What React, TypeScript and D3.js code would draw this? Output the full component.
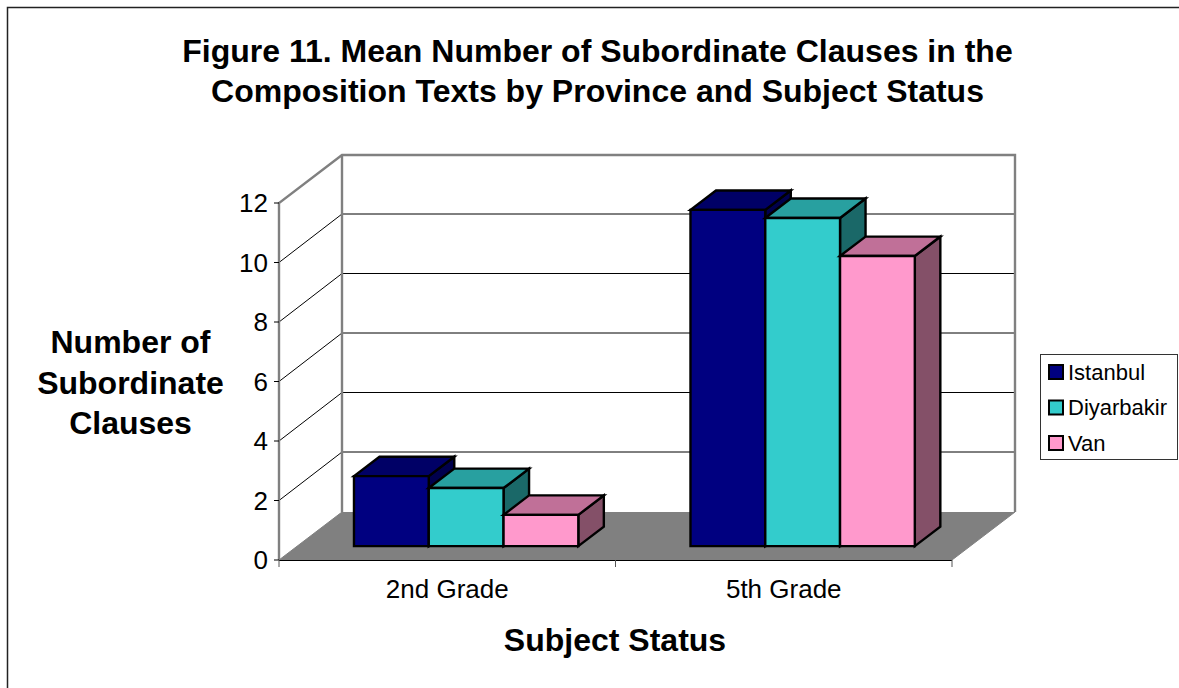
import React from "react";
import * as d3 from "d3";

const categories = ["2nd Grade", "5th Grade"];
const seriesNames = ["Istanbul", "Diyarbakir", "Van"];
const istanbulValues = [2.35, 11.3];
const diyarbakirValues = [1.95, 11.03];
const vanValues = [1.05, 9.75];
const seriesValues = [istanbulValues, diyarbakirValues, vanValues];
const frontColors = ["#000080", "#33CCCC", "#FF99CC"];
const topColors = ["#000066", "#28A0A0", "#C07098"];
const sideColors = ["#00004D", "#1A6868", "#845068"];
const yTicks = [0, 2, 4, 6, 8, 10, 12];
const titleLines = [
  "Figure 11. Mean Number of Subordinate Clauses in the",
  "Composition Texts by Province and Subject Status",
];
const yTitleLines = ["Number of", "Subordinate", "Clauses"];
const xTitle = "Subject Status";

const FONT = "'Liberation Sans', Arial, sans-serif";
const depthX = 63;
const depthY = 48;
const barDepthFront = 0.30;
const barDepthSize = 0.405;

export default function App() {
  const y = d3.scaleLinear().domain([0, 12]).range([560, 203]);
  const x0 = d3
    .scaleBand<string>()
    .domain(categories)
    .range([279, 952])
    .paddingInner(1 / 3)
    .paddingOuter(1 / 6);
  const x1 = d3
    .scaleBand<string>()
    .domain(seriesNames)
    .range([0, x0.bandwidth()]);
  const xStep = x0.step();

  const path = d3.line<[number, number]>();
  const bars = categories.flatMap((c, ci) =>
    seriesNames.map((s, si) => {
      const v = seriesValues[si][ci];
      const ox = depthX * barDepthFront;
      const oy = -depthY * 0.29;
      const dx = depthX * barDepthSize;
      const dy = -depthY * barDepthSize;
      const l = (x0(c) as number) + (x1(s) as number) + ox;
      const r = l + x1.bandwidth();
      const b = y(0) + oy;
      const t = y(v) + oy;
      return { key: c + s, si, l, r, b, t, dx, dy };
    })
  );

  return (
    <svg
      width={1179}
      height={688}
      style={{ position: "fixed", left: 0, top: 0, display: "block", background: "#fff" }}
      fontFamily={FONT}
    >
      <path d="M7.5,688V7.5H1179" fill="none" stroke="#222" strokeWidth={1.5} />

      {titleLines.map((t, i) => (
        <text key={t} x={597.5} y={62 + i * 40} textAnchor="middle" fontSize={32} fontWeight="bold">
          {t}
        </text>
      ))}

      {/* floor */}
      <path
        d={`M${x0.range()[0]},${y(0)}L${x0.range()[0] + depthX},${y(0) - depthY}H${x0.range()[1] + depthX}L${x0.range()[1]},${y(0)}Z`}
        fill="#808080"
      />

      {/* gridlines */}
      {yTicks.slice(1, -1).map((v) => (
        <g key={v}>
          <line x1={279} y1={y(v)} x2={279 + depthX} y2={y(v) - depthY - 0.5} stroke="#000" strokeWidth={1} />
          <line x1={279 + depthX} y1={y(v) - depthY - 0.5} x2={952 + depthX} y2={y(v) - depthY - 0.5} stroke="#000" strokeWidth={1} />
        </g>
      ))}

      {/* walls */}
      <path
        d={`M279,${y(0)}V${y(12)}L${279 + depthX},${y(12) - depthY}H${952 + depthX}V${y(0) - depthY}`}
        fill="none"
        stroke="#808080"
        strokeWidth={2.4}
      />
      <path d={`M${279 + depthX},${y(12) - depthY}V${y(0) - depthY}`} fill="none" stroke="#808080" strokeWidth={2.4} />
      <line x1={952 + depthX} y1={y(0) - depthY} x2={952} y2={y(0)} stroke="#808080" strokeWidth={1} />
      <line x1={279} y1={y(0)} x2={279 + depthX} y2={y(0) - depthY} stroke="#808080" strokeWidth={1} />

      {/* axes */}
      <line x1={279} y1={y(0) + 0.5} x2={952} y2={y(0) + 0.5} stroke="#000" strokeWidth={1} />
      {yTicks.map((v) => (
        <g key={v}>
          <line x1={274} y1={y(v)} x2={279} y2={y(v)} stroke="#000" strokeWidth={1} />
          <text x={268} y={y(v) + 9} textAnchor="end" fontSize={26}>
            {v}
          </text>
        </g>
      ))}
      {[0, 1, 2].map((i) => (
        <line
          key={i}
          x1={279 + i * xStep}
          y1={y(0)}
          x2={279 + i * xStep}
          y2={y(0) + 7}
          stroke="#555"
          strokeWidth={1}
        />
      ))}
      {categories.map((c) => (
        <text
          key={c}
          x={(x0(c) as number) + x0.bandwidth() / 2}
          y={598}
          textAnchor="middle"
          fontSize={26}
        >
          {c}
        </text>
      ))}

      {/* bars */}
      {bars.map((b) => (
        <g key={b.key} stroke="#000" strokeWidth={2.4} strokeLinejoin="miter">
          <path
            d={path([[b.r, b.b], [b.r + b.dx, b.b + b.dy], [b.r + b.dx, b.t + b.dy], [b.r, b.t]]) + "Z"}
            fill={sideColors[b.si]}
          />
          <path
            d={path([[b.l, b.t], [b.l + b.dx, b.t + b.dy], [b.r + b.dx, b.t + b.dy], [b.r, b.t]]) + "Z"}
            fill={topColors[b.si]}
          />
          <path
            d={path([[b.l, b.b], [b.l, b.t], [b.r, b.t], [b.r, b.b]]) + "Z"}
            fill={frontColors[b.si]}
          />
        </g>
      ))}

      {/* axis titles */}
      {yTitleLines.map((t, i) => (
        <text key={t} x={130.5} y={353 + i * 40.5} textAnchor="middle" fontSize={32} fontWeight="bold">
          {t}
        </text>
      ))}
      <text x={615} y={651} textAnchor="middle" fontSize={32} fontWeight="bold">
        {xTitle}
      </text>

      {/* legend */}
      <rect x={1040.5} y={354.5} width={137} height={105} fill="#fff" stroke="#333" strokeWidth={1} />
      {seriesNames.map((s, i) => (
        <g key={s}>
          <rect
            x={1049}
            y={365 + i * 35.5}
            width={14}
            height={14}
            fill={frontColors[i]}
            stroke="#000"
            strokeWidth={2}
          />
          <text x={1068} y={380 + i * 35.3} fontSize={22}>
            {s}
          </text>
        </g>
      ))}
    </svg>
  );
}
